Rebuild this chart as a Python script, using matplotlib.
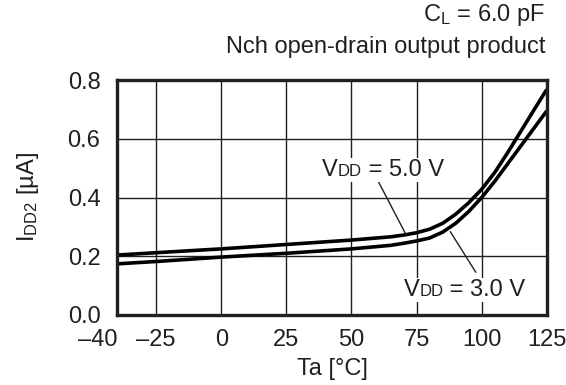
import matplotlib
matplotlib.use('Agg')
from matplotlib import pyplot as plt
from matplotlib.offsetbox import TextArea, HPacker, AnnotationBbox

plt.rcParams['font.family'] = ['Liberation Sans', 'DejaVu Sans']
plt.rcParams['mathtext.fontset'] = 'custom'
plt.rcParams['mathtext.rm'] = 'Liberation Sans'
plt.rcParams['mathtext.it'] = 'Liberation Sans'

# temperature [degC] and supply current [uA]
temp = [-40, -25, 0, 25, 50, 65, 70, 75, 80, 85, 90, 95, 100, 105, 110, 115, 120, 125]
idd_5v = [0.204, 0.212, 0.225, 0.240, 0.255, 0.266, 0.272, 0.280, 0.292, 0.312,
          0.343, 0.382, 0.428, 0.485, 0.553, 0.625, 0.697, 0.768]
idd_3v = [0.174, 0.182, 0.197, 0.210, 0.225, 0.237, 0.244, 0.252, 0.262, 0.282,
          0.312, 0.352, 0.400, 0.455, 0.515, 0.575, 0.635, 0.695]

xticks = [-40, -25, 0, 25, 50, 75, 100, 125]
xtick_labels = ['\u201340', '\u201325', '0', '25', '50', '75', '100', '125']
yticks = [0.0, 0.2, 0.4, 0.6, 0.8]

FS = 17
INK = '#231f20'

fig = plt.figure(figsize=(5.66, 3.85), dpi=100)
ax = fig.add_axes([0.207, 0.182, 0.759, 0.610])

ax.plot(temp, idd_5v, color='black', lw=2.6, solid_capstyle='butt')
ax.plot(temp, idd_3v, color='black', lw=2.6, solid_capstyle='butt')

ax.set_xlim(-40, 125)
ax.set_ylim(0, 0.8)
ax.set_xticks(xticks)
ax.set_xticklabels(xtick_labels)
ax.set_yticks(yticks)
ax.set_yticklabels(['%.1f' % v for v in yticks])
ax.tick_params(length=0, labelsize=FS, colors=INK)
ax.tick_params(axis='x', pad=10)
ax.tick_params(axis='y', pad=12)
ax.get_xticklabels()[0].set_horizontalalignment('right')

ax.grid(True, color=INK, lw=1.0)
ax.set_axisbelow(True)
for s in ax.spines.values():
    s.set_linewidth(2.4)
    s.set_color(INK)

ax.set_xlabel('Ta [\u00b0C]', fontsize=FS, color=INK, labelpad=5)
ax.set_ylabel('I$_{\\rm DD2}$ [\u00b5A]', fontsize=FS, color=INK, labelpad=19)


def vdd_label(x, y, value):
    # "V" with small "DD" sitting on the baseline, like the datasheet
    parts = [TextArea('V', textprops=dict(size=FS, color=INK)),
             TextArea('DD', textprops=dict(size=12, color=INK)),
             TextArea(' = %s V' % value, textprops=dict(size=FS, color=INK))]
    box = HPacker(children=parts, align='baseline', pad=0, sep=0)
    ab = AnnotationBbox(box, (x, y), xycoords='data', box_alignment=(0, 0.5),
                        frameon=True, pad=0.1,
                        bboxprops=dict(fc='white', ec='none'))
    ax.add_artist(ab)


vdd_label(38.8, 0.494, '5.0')
ax.plot([60.4, 70.8], [0.453, 0.276], color=INK, lw=1.0)
vdd_label(70.0, 0.085, '3.0')
ax.plot([88.0, 97.7], [0.283, 0.146], color=INK, lw=1.0)

fig.text(0.963, 0.961, 'C$_{\\rm L}$ = 6.0 pF', fontsize=FS, color=INK,
         ha='right', va='center')
fig.text(0.963, 0.878, 'Nch open-drain output product', fontsize=FS,
         color=INK, ha='right', va='center')

fig.savefig('out.png', dpi=100)
